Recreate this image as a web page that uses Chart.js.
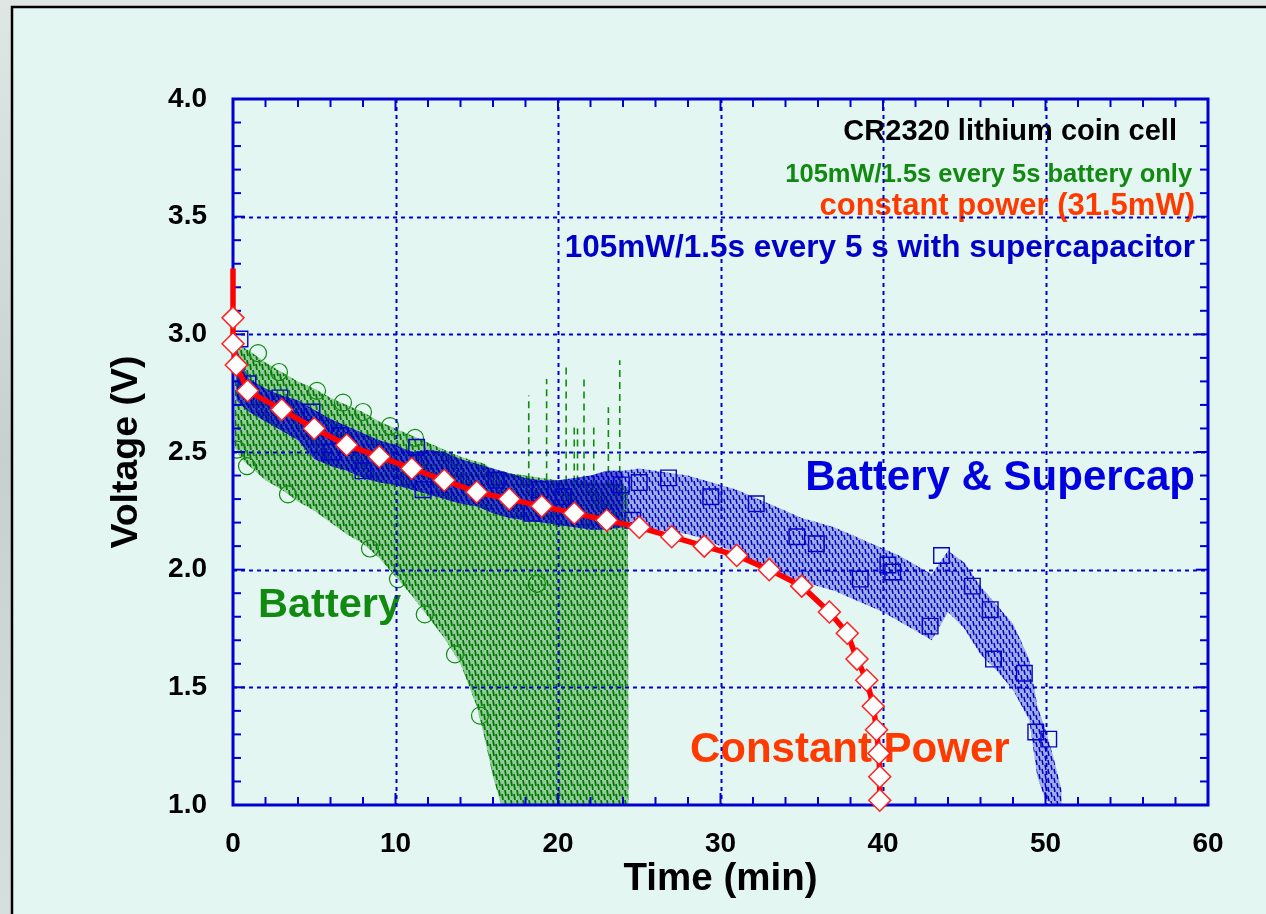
<!DOCTYPE html>
<html><head><meta charset="utf-8">
<script src="https://cdn.jsdelivr.net/npm/chart.js@4.4.0/dist/chart.umd.min.js"></script>
<style>html,body{margin:0;padding:0;background:#cdd7d5;overflow:hidden}#wrap{width:1266px;height:914px;position:relative}</style>
</head><body><div id="wrap"><canvas id="c" width="1266" height="914"></canvas></div>
<script>
// ---------- data ----------
// Constant power (31.5 mW) discharge
const cpT = [0, 0, 0, 0.2, 0.9, 3, 5, 7, 9, 11, 13, 15, 17, 19, 21, 23, 25, 27, 29, 31, 33, 35, 36.7, 37.8, 38.4, 39.0, 39.4, 39.6, 39.75, 39.8, 39.8];
const cpV = [3.28, 3.07, 2.96, 2.87, 2.76, 2.68, 2.60, 2.53, 2.48, 2.43, 2.38, 2.33, 2.30, 2.27, 2.24, 2.21, 2.18, 2.14, 2.10, 2.06, 2.00, 1.93, 1.82, 1.73, 1.62, 1.53, 1.42, 1.32, 1.22, 1.12, 1.02];

// Battery only (105mW/1.5s every 5s): envelope of the pulse trace
const batT  = [0.1, 0.5, 1, 2, 3, 4, 5, 6, 7, 8, 9, 10, 11, 12, 13, 14, 15, 15.5, 16, 16.5, 17, 18, 19, 20, 21, 22, 23, 24, 24.3, 24.35];
const batHi = [3.00, 2.95, 2.93, 2.88, 2.84, 2.80, 2.77, 2.73, 2.70, 2.67, 2.63, 2.60, 2.57, 2.54, 2.51, 2.48, 2.46, 2.45, 2.42, 2.42, 2.41, 2.40, 2.39, 2.38, 2.38, 2.37, 2.37, 2.36, 2.35, 1.00];
const batLo = [2.52, 2.47, 2.44, 2.38, 2.34, 2.29, 2.25, 2.20, 2.15, 2.11, 2.05, 1.97, 1.89, 1.80, 1.71, 1.60, 1.42, 1.28, 1.12, 1.00, 1.00, 1.00, 1.00, 1.00, 1.00, 1.00, 1.00, 1.00, 1.00, 1.00];
// Battery only: recovery spikes
const spikeT    = [18.2, 19.3, 20.5, 21.0, 21.2, 21.6, 22.2, 23.1, 23.8];
const spikeTop  = [2.74, 2.81, 2.86, 2.61, 2.60, 2.81, 2.62, 2.69, 2.89];
const spikeBase = [2.38, 2.38, 2.37, 2.37, 2.37, 2.37, 2.37, 2.36, 2.36];
// Battery only: circle markers
const batMkT = [0.25, 0.86, 1.54, 2.83, 3.38, 5.17, 6.77, 8.0, 8.43, 9.66, 10.15, 11.2, 11.8, 13.66, 15.2, 18.7];
const batMkV = [2.51, 2.44, 2.92, 2.84, 2.32, 2.76, 2.71, 2.67, 2.09, 2.61, 1.96, 2.56, 1.81, 1.64, 1.38, 1.94];

// Battery & supercapacitor: envelope of the pulse trace
const capT  = [0.2, 0.5, 1, 2, 3, 4, 5, 6, 7, 8, 9, 10, 11, 12, 13, 14, 15, 16, 17, 18, 19, 20, 21, 22, 23, 24, 25, 26, 27, 28, 29, 30, 31, 32, 33, 34, 35, 36, 37, 38, 39, 40, 41, 42, 43, 44, 45, 46, 47, 48, 49, 49.5, 50, 50.5, 51];
const capHi = [2.95, 2.88, 2.81, 2.77, 2.74, 2.72, 2.68, 2.64, 2.61, 2.58, 2.55, 2.53, 2.50, 2.51, 2.50, 2.47, 2.45, 2.43, 2.41, 2.39, 2.38, 2.38, 2.39, 2.40, 2.42, 2.42, 2.43, 2.42, 2.41, 2.40, 2.38, 2.36, 2.34, 2.31, 2.28, 2.25, 2.22, 2.20, 2.18, 2.15, 2.12, 2.09, 2.06, 2.02, 1.98, 2.08, 2.03, 1.93, 1.85, 1.77, 1.62, 1.42, 1.32, 1.20, 1.06];
const capLo = [2.72, 2.70, 2.67, 2.63, 2.59, 2.55, 2.47, 2.44, 2.42, 2.39, 2.37, 2.36, 2.34, 2.32, 2.30, 2.28, 2.27, 2.24, 2.22, 2.21, 2.20, 2.19, 2.18, 2.17, 2.17, 2.18, 2.18, 2.17, 2.16, 2.15, 2.13, 2.10, 2.07, 2.03, 2.00, 1.97, 1.95, 1.93, 1.91, 1.88, 1.85, 1.82, 1.78, 1.74, 1.70, 1.82, 1.75, 1.64, 1.57, 1.49, 1.36, 1.12, 1.02, 1.00, 1.00];
// Battery & supercapacitor: square markers
const capMkT = [0.43, 0.92, 2.89, 4.86, 6.09, 6.58, 8.0, 11.3, 11.7, 16.2, 18.4, 18.9, 20.3, 23.9, 24.6, 25.0, 26.8, 29.4, 32.2, 34.7, 35.9, 38.6, 40.3, 40.6, 42.9, 43.6, 45.5, 46.6, 46.8, 48.7, 49.4, 50.2];
const capMkV = [2.98, 2.79, 2.73, 2.67, 2.50, 2.57, 2.42, 2.52, 2.34, 2.38, 2.24, 2.34, 2.31, 2.36, 2.21, 2.37, 2.39, 2.31, 2.28, 2.14, 2.11, 1.96, 2.02, 1.99, 1.76, 2.06, 1.93, 1.83, 1.62, 1.56, 1.31, 1.28];

// axis ticks
const xTickStep = 10, yTickStep = 0.5;
const xMinorPerMajor = 5, yMinorPerMajor = 5;

// ---------- styling ----------
const FAM = "'Liberation Sans', Arial, Helvetica, sans-serif";
const AXIS = '#0000d2';
const GREEN = '#128a12';
const BLUE = '#0505c8';
const ORANGE = '#ff3a00';

const canvas = document.getElementById('c');
const ctx0 = canvas.getContext('2d');
function makePattern(w, h, bg, color, lw, segs) {
  const c = document.createElement('canvas');
  c.width = w; c.height = h;
  const g = c.getContext('2d');
  if (bg) { g.fillStyle = bg; g.fillRect(0, 0, w, h); }
  g.strokeStyle = color; g.lineWidth = lw;
  g.beginPath();
  segs.forEach(s => { g.moveTo(s[0], s[1]); g.lineTo(s[2], s[3]); });
  g.stroke();
  return ctx0.createPattern(c, 'repeat');
}
const greenPat = makePattern(6, 10, 'rgba(20,135,20,0.38)', 'rgba(0,120,0,1)', 1.8, [[1,0,2,6],[4,4,5,10]]);
const bluePatDense = makePattern(5, 8, 'rgba(0,0,200,0.62)', 'rgba(0,0,190,1)', 1.8, [[1,0,2,5],[3,4,4,8]]);
const bluePatSparse = makePattern(6, 9, 'rgba(0,0,200,0.30)', 'rgba(0,0,200,1)', 1.5, [[1,0,2,5],[4,4,5,9]]);

const pts = (t, v) => t.map((x, i) => ({x, y: v[i]}));
const splitAt = 24;
const iSplit = capT.indexOf(splitAt);

const spikeData = [];
spikeT.forEach((t, i) => {
  spikeData.push({x: t, y: spikeBase[i]}, {x: t, y: spikeTop[i]}, {x: t, y: null});
});

const notes = [
  {text: 'CR2320 lithium coin cell', color: '#000000', size: 29, x: 58.09, y: 3.826, align: 'right'},
  {text: '105mW/1.5s every 5s battery only', color: GREEN, size: 25.5, x: 59.02, y: 3.648, align: 'right'},
  {text: 'constant power (31.5mW)', color: ORANGE, size: 31, x: 59.2, y: 3.507, align: 'right'},
  {text: '105mW/1.5s every 5 s with supercapacitor', color: '#0000c8', size: 31.5, x: 59.2, y: 3.329, align: 'right'},
  {text: 'Battery & Supercap', color: '#0000e0', size: 42, x: 59.2, y: 2.339, align: 'right'},
  {text: 'Battery', color: GREEN, size: 41.5, x: 1.54, y: 1.799, align: 'left'},
  {text: 'Constant Power', color: ORANGE, size: 42, x: 28.12, y: 1.183, align: 'left'}
];

const RED_INDEX = 9;
const framePlugin = {
  id: 'frame',
  beforeDraw(chart) {
    const c = chart.ctx, W = chart.width, H = chart.height;
    c.save();
    const gr = c.createLinearGradient(0, 0, 0, H);
    gr.addColorStop(0, '#dfe7e5'); gr.addColorStop(0.5, '#c6d1cf'); gr.addColorStop(1, '#d6dfdd');
    c.fillStyle = gr; c.fillRect(0, 0, W, H);
    c.fillStyle = '#e3f6f1';
    c.fillRect(12, 7, W - 12, H - 7);
    c.strokeStyle = '#000'; c.lineWidth = 2.5;
    c.beginPath(); c.moveTo(12, H); c.lineTo(12, 7); c.lineTo(W, 7); c.stroke();
    c.restore();
  },
  beforeDatasetsDraw(chart) {
    const c = chart.ctx, sx = chart.scales.x, sy = chart.scales.y;
    c.save();
    notes.forEach(n => {
      c.font = 'bold ' + n.size + 'px ' + FAM;
      c.fillStyle = n.color; c.textAlign = n.align; c.textBaseline = 'alphabetic';
      c.fillText(n.text, sx.getPixelForValue(n.x), sy.getPixelForValue(n.y));
    });
    c.restore();
  },
  beforeDatasetDraw(chart, args) {
    if (args.index !== RED_INDEX) return;
    const c = chart.ctx, a = chart.chartArea, sx = chart.scales.x, sy = chart.scales.y;
    c.save();
    c.strokeStyle = AXIS;
    // dotted major grid
    c.lineWidth = 2; c.setLineDash([4, 4]);
    sx.ticks.forEach(t => {
      if (t.value <= sx.min || t.value >= sx.max) return;
      const p = Math.round(sx.getPixelForValue(t.value)) + 0.5;
      c.beginPath(); c.moveTo(p, a.top); c.lineTo(p, a.bottom); c.stroke();
    });
    sy.ticks.forEach(t => {
      if (t.value <= sy.min || t.value >= sy.max) return;
      const p = Math.round(sy.getPixelForValue(t.value)) + 0.5;
      c.beginPath(); c.moveTo(a.left, p); c.lineTo(a.right, p); c.stroke();
    });
    c.setLineDash([]);
    // inward ticks on all four sides
    c.lineWidth = 2;
    const xm = xTickStep / xMinorPerMajor;
    for (let v = sx.min; v <= sx.max + 1e-9; v += xm) {
      const major = Math.abs(v / xTickStep - Math.round(v / xTickStep)) < 1e-6;
      const L = major ? 12 : 8;
      const p = sx.getPixelForValue(v);
      c.beginPath(); c.moveTo(p, a.bottom); c.lineTo(p, a.bottom - L); c.stroke();
      c.beginPath(); c.moveTo(p, a.top); c.lineTo(p, a.top + L); c.stroke();
    }
    const ym = yTickStep / yMinorPerMajor;
    for (let v = sy.min; v <= sy.max + 1e-9; v += ym) {
      const major = Math.abs(v / yTickStep - Math.round(v / yTickStep)) < 1e-6;
      const L = major ? 12 : 8;
      const p = sy.getPixelForValue(v);
      c.beginPath(); c.moveTo(a.left, p); c.lineTo(a.left + L, p); c.stroke();
      c.beginPath(); c.moveTo(a.right, p); c.lineTo(a.right - L, p); c.stroke();
    }
    // axis box
    c.lineWidth = 3;
    c.strokeRect(a.left, a.top, a.right - a.left, a.bottom - a.top);
    c.restore();
  }
};

const noLine = {borderWidth: 0, pointRadius: 0, showLine: true};
new Chart(canvas, {
  type: 'line',
  data: {
    datasets: [
      // 0,1 battery-only band
      {data: pts(batT, batLo), ...noLine, fill: false, order: 10},
      {data: pts(batT, batHi), ...noLine, fill: '-1', backgroundColor: greenPat, order: 10},
      // 2,3 supercap band (first part)
      {data: pts(capT.slice(0, iSplit + 1), capLo.slice(0, iSplit + 1)), ...noLine, fill: false, order: 7},
      {data: pts(capT.slice(0, iSplit + 1), capHi.slice(0, iSplit + 1)), ...noLine, fill: '-1', backgroundColor: bluePatDense, order: 7},
      // 4,5 supercap band (second part)
      {data: pts(capT.slice(iSplit), capLo.slice(iSplit)), ...noLine, fill: false, order: 7},
      {data: pts(capT.slice(iSplit), capHi.slice(iSplit)), ...noLine, fill: '-1', backgroundColor: bluePatSparse, order: 7},
      // 6 spikes
      {data: spikeData, borderColor: GREEN, borderWidth: 1.6, borderDash: [7, 5], pointRadius: 0, spanGaps: false, fill: false, order: 9},
      // 7 battery circles
      {data: pts(batMkT, batMkV), showLine: false, pointStyle: 'circle', pointRadius: 8.5,
       pointBackgroundColor: 'rgba(0,0,0,0)', pointBorderColor: GREEN, pointBorderWidth: 1.2, order: 8},
      // 8 supercap squares
      {data: pts(capMkT, capMkV), showLine: false, pointStyle: 'rect', pointRadius: 11,
       pointBackgroundColor: 'rgba(0,0,0,0)', pointBorderColor: BLUE, pointBorderWidth: 1.4, order: 6},
      // 9 constant power
      {data: pts(cpT, cpV), borderColor: '#ff0000', borderWidth: 5.5, tension: 0, fill: false,
       pointStyle: 'rectRot', pointRadius: cpT.map((t, i) => i === 0 ? 0 : 11),
       pointBackgroundColor: '#ffffff', pointBorderColor: '#ff2020', pointBorderWidth: 1.5,
       clip: false, order: 0}
    ]
  },
  options: {
    responsive: false, animation: false, devicePixelRatio: 1,
    events: [],
    layout: {padding: {left: 100, top: 99, right: 58, bottom: 8}},
    plugins: {legend: {display: false}, tooltip: {enabled: false}},
    scales: {
      x: {type: 'linear', min: 0, max: 60,
          ticks: {stepSize: xTickStep, color: '#000', padding: 22, maxRotation: 0,
                  font: {family: FAM, size: 28, weight: 'bold'}},
          grid: {display: false, drawTicks: false}, border: {display: false},
          title: {display: true, text: 'Time (min)', color: '#000', padding: {top: 4, bottom: 4},
                  font: {family: FAM, size: 38.5, weight: 'bold'}},
          afterFit(s) { s.height = 101; }},
      y: {type: 'linear', min: 1, max: 4,
          ticks: {stepSize: yTickStep, color: '#000', padding: 26,
                  font: {family: FAM, size: 28, weight: 'bold'},
                  callback: v => Number(v).toFixed(1)},
          grid: {display: false, drawTicks: false}, border: {display: false},
          title: {display: true, text: 'Voltage (V)', color: '#000', padding: {top: 4, bottom: 4},
                  font: {family: FAM, size: 37.5, weight: 'bold'}},
          afterFit(s) { s.width = 133; }}
    }
  },
  plugins: [framePlugin]
});
</script></body></html>
